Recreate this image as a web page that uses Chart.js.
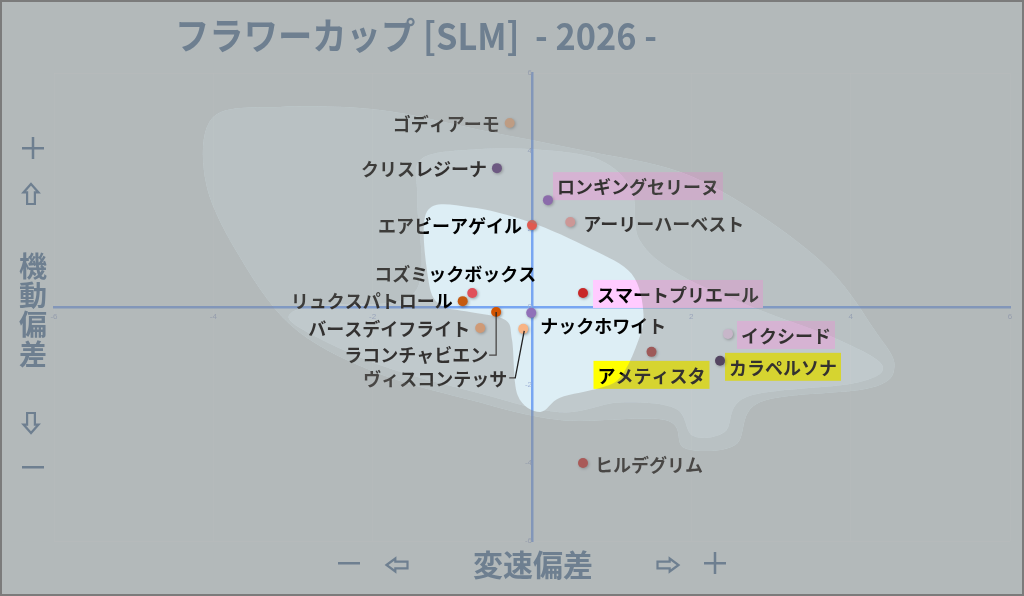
<!DOCTYPE html>
<html lang="ja">
<head>
<meta charset="utf-8">
<title>フラワーカップ [SLM] - 2026 -</title>
<script src="https://cdn.jsdelivr.net/npm/chart.js@4.4.1/dist/chart.umd.min.js"></script>
<style>
    html, body { margin: 0; padding: 0; background: #b3b8bb; }
    #wrap { width: 1024px; height: 596px; }
</style>
</head>
<body>
<div id="wrap"><canvas id="flowerChart" width="1024" height="596"></canvas></div>
<script>
// 馬名と偏差値 (x: 変速偏差, y: 機動偏差)
const horseNames = [
    'ゴディアーモ', 'クリスレジーナ', 'ロンギングセリーヌ', 'アーリーハーベスト',
    'エアビーアゲイル', 'コズミックボックス', 'リュクスパトロール', 'ラコンチャビエン',
    'ナックホワイト', 'バースデイフライト', 'ヴィスコンテッサ', 'スマートプリエール',
    'イクシード', 'アメティスタ', 'カラペルソナ', 'ヒルデグリム'
];
const speedDev = [-0.28, -0.44, 0.20, 0.48, 0.00, -0.75, -0.87, -0.45, -0.01, -0.65, -0.11, 0.64, 2.46, 1.50, 2.36, 0.64];
const mobilityDev = [4.72, 3.56, 2.74, 2.18, 2.10, 0.36, 0.15, -0.13, -0.15, -0.54, -0.56, 0.36, -0.69, -1.15, -1.38, -4.00];
const tickValues = [-6, -4, -2, 0, 2, 4, 6];

const pointColors = [
    '#f4b183', '#5b3f80', '#8a5cc0', '#f0a0a0', '#e05a50', '#e0505a', '#c55a11', '#d35400',
    '#9070b8', '#f4a46e', '#f8b485', '#c82828', '#e8d0f0', '#a84040', '#35204d', '#c82828'
];

// ラベルの置き方 (点からのずれ, px)
const PINK = '#ffcbff';
const YELLOW = '#ffff00';
const labelPlacement = [
    { dx: -10, dy: 0, align: 'right' },
    { dx: -10, dy: 0, align: 'right' },
    { dx: 9, dy: -14, align: 'left', box: PINK },
    { dx: 13, dy: 1, align: 'left' },
    { dx: -10, dy: 0, align: 'right' },
    { dx: -17, dy: -20, align: 'center' },
    { dx: -10, dy: -1, align: 'right' },
    { dx: -8, dy: 42, align: 'right', leader: [[0, 0], [0, 43], [-7, 43]] },
    { dx: 9, dy: 12, align: 'left' },
    { dx: -10, dy: 0, align: 'right' },
    { dx: -16, dy: 49, align: 'right', leader: [[1, 2], [-8, 49], [-14, 49]] },
    { dx: 14, dy: 1, align: 'left', box: PINK },
    { dx: 13, dy: 1, align: 'left', box: PINK },
    { dx: 0, dy: 23, align: 'center', box: YELLOW },
    { dx: 9, dy: 6, align: 'left', box: YELLOW },
    { dx: 12, dy: 1, align: 'left' }
];

// 背景のもや (データ座標)
const blobOuter = [
    [-4.00, 4.87], [-3.16, 5.13], [-1.91, 5.05], [-0.65, 4.54], [0.60, 4.03], [1.86, 3.46],
    [2.86, 2.36], [3.74, 0.95], [4.30, -0.59], [4.55, -1.51], [4.24, -2.08], [2.86, -2.44],
    [2.55, -3.54], [1.92, -3.62], [1.67, -2.90], [0.35, -2.90], [-0.78, -2.38], [-2.03, -1.62],
    [-3.03, -0.46], [-3.72, 1.46], [-4.10, 3.26]
];
const blobMiddle = [
    [-1.40, 3.77], [-0.78, 4.03], [0.10, 4.03], [0.85, 3.77], [1.25, 3.00], [1.35, 1.72],
    [1.86, 0.82], [2.86, -0.08], [3.86, -0.85], [4.40, -1.51], [4.05, -1.95], [2.70, -2.30],
    [2.42, -3.20], [2.02, -3.30], [1.80, -2.60], [1.10, -2.45], [0.35, -2.70], [-0.65, -2.22],
    [-1.91, -1.49], [-2.91, -0.54], [-3.01, -0.13], [-2.53, 0.05], [-1.47, 0.38], [-1.44, 2.74]
];
const blobInner = [
    [-1.32, 2.44], [-0.78, 2.56], [-0.03, 2.18], [0.73, 1.50], [1.25, 0.85], [1.40, -0.20],
    [1.30, -1.05], [1.10, -1.82], [0.85, -2.08], [0.35, -2.33], [0.10, -2.69], [-0.18, -2.26],
    [-0.25, -0.85], [-0.34, -0.33], [-0.78, -0.13], [-1.15, 0.05], [-1.30, 0.69]
];

const LABEL_FONT = 'bold 18px "Noto Sans CJK JP", sans-serif';
const SLATE = '#6e7f90';
const VEIL = '140, 137, 132';

function labelAnchor(ctx, pt, i) {
    const pl = labelPlacement[i];
    const w = ctx.measureText(horseNames[i]).width;
    const ax = pt.x + pl.dx;
    let left = ax;
    if (pl.align === 'right') left = ax - w;
    if (pl.align === 'center') left = ax - w / 2;
    return { left: left, y: pt.y + pl.dy, w: w };
}

function blobPath(ctx, chart, pts) {
    const xs = chart.scales.x, ys = chart.scales.y;
    const p = pts.map(([x, y]) => [xs.getPixelForValue(x), ys.getPixelForValue(y)]);
    const n = p.length;
    ctx.beginPath();
    ctx.moveTo(p[0][0], p[0][1]);
    for (let i = 0; i < n; i++) {
        const p0 = p[(i - 1 + n) % n], p1 = p[i], p2 = p[(i + 1) % n], p3 = p[(i + 2) % n];
        ctx.bezierCurveTo(
            p1[0] + (p2[0] - p0[0]) / 6, p1[1] + (p2[1] - p0[1]) / 6,
            p2[0] - (p3[0] - p1[0]) / 6, p2[1] - (p3[1] - p1[1]) / 6,
            p2[0], p2[1]);
    }
    ctx.closePath();
}

// 白抜きの矢印 (dir: up / down / left / right)
function outlineArrow(ctx, cx, cy, len, wid, dir) {
    const head = len * 0.42, half = wid / 2, shaft = wid * 0.26;
    const pts = [
        [0, -len / 2], [half, -len / 2 + head], [shaft, -len / 2 + head], [shaft, len / 2],
        [-shaft, len / 2], [-shaft, -len / 2 + head], [-half, -len / 2 + head]
    ];
    const rot = { up: 0, right: Math.PI / 2, down: Math.PI, left: -Math.PI / 2 }[dir];
    ctx.save();
    ctx.translate(cx, cy);
    ctx.rotate(rot);
    ctx.beginPath();
    pts.forEach(([x, y], k) => k ? ctx.lineTo(x, y) : ctx.moveTo(x, y));
    ctx.closePath();
    ctx.stroke();
    ctx.restore();
}

const backgroundPlugin = {
    id: 'baseBackground',
    beforeDraw(chart) {
        const ctx = chart.ctx;
        ctx.save();
        ctx.fillStyle = '#ddeef5';
        ctx.fillRect(0, 0, chart.width, chart.height);
        ctx.restore();
    }
};

const labelPlugin = {
    id: 'horseLabels',
    beforeDatasetsDraw(chart) {
        const ctx = chart.ctx;
        const meta = chart.getDatasetMeta(0);
        ctx.save();
        ctx.font = LABEL_FONT;
        meta.data.forEach((pt, i) => {
            const pl = labelPlacement[i];
            if (!pl.box) return;
            const a = labelAnchor(ctx, pt, i);
            ctx.fillStyle = pl.box;
            ctx.fillRect(a.left - 4, a.y - 14, a.w + 8, 28);
        });
        ctx.restore();
        // 点の影
        ctx.save();
        ctx.shadowColor = 'rgba(0, 0, 0, 0.35)';
        ctx.shadowBlur = 3;
        ctx.shadowOffsetX = 1;
        ctx.shadowOffsetY = 1;
    },
    afterDatasetsDraw(chart) {
        const ctx = chart.ctx;
        ctx.restore();
        const meta = chart.getDatasetMeta(0);
        ctx.save();
        ctx.font = LABEL_FONT;
        ctx.textBaseline = 'middle';
        ctx.textAlign = 'left';
        meta.data.forEach((pt, i) => {
            const pl = labelPlacement[i];
            const a = labelAnchor(ctx, pt, i);
            ctx.fillStyle = '#000000';
            ctx.fillText(horseNames[i], a.left, a.y + 1);
            if (pl.leader) {
                ctx.strokeStyle = '#222222';
                ctx.lineWidth = 1.3;
                ctx.beginPath();
                pl.leader.forEach(([lx, ly], k) => {
                    if (k === 0) ctx.moveTo(pt.x + lx, pt.y + ly);
                    else ctx.lineTo(pt.x + lx, pt.y + ly);
                });
                ctx.stroke();
            }
        });
        ctx.restore();
    }
};

const veilPlugin = {
    id: 'greyVeil',
    afterDraw(chart) {
        const ctx = chart.ctx;
        const cv = chart.canvas;
        const dpr = chart.currentDevicePixelRatio || 1;
        const veil = document.createElement('canvas');
        veil.width = cv.width;
        veil.height = cv.height;
        const vctx = veil.getContext('2d');
        vctx.scale(dpr, dpr);
        const layers = [
            { pts: null, a: 0.52 },
            { pts: blobOuter, a: 0.44 },
            { pts: blobMiddle, a: 0.36 },
            { pts: blobInner, a: 0.0 }
        ];
        layers.forEach(layer => {
            vctx.save();
            if (layer.pts) {
                blobPath(vctx, chart, layer.pts);
                vctx.clip();
            }
            vctx.clearRect(0, 0, chart.width, chart.height);
            vctx.fillStyle = `rgba(${VEIL}, ${layer.a})`;
            vctx.fillRect(0, 0, chart.width, chart.height);
            vctx.restore();
        });
        ctx.save();
        ctx.setTransform(1, 0, 0, 1, 0, 0);
        ctx.drawImage(veil, 0, 0);
        ctx.restore();

        // タイトルと軸の見出し
        ctx.save();
        ctx.fillStyle = SLATE;
        ctx.strokeStyle = SLATE;
        ctx.textBaseline = 'middle';
        ctx.textAlign = 'left';
        ctx.font = 'bold 37px "Noto Sans CJK JP", sans-serif';
        const title = 'フラワーカップ [SLM]  - 2026 -';
        const tw = ctx.measureText(title).width;
        ctx.save();
        ctx.translate(175, 36);
        ctx.scale(482 / tw, 1);
        ctx.fillText(title, 0, 0);
        ctx.restore();

        ctx.textAlign = 'center';
        ctx.font = 'bold 28px "Noto Sans CJK JP", sans-serif';
        ['機', '動', '偏', '差'].forEach((ch, k) => ctx.fillText(ch, 33, 266 + k * 29.3));
        ctx.font = 'bold 30px "Noto Sans CJK JP", sans-serif';
        ctx.fillText('変速偏差', 533, 565);

        // ＋ と －
        ctx.fillRect(22, 147, 22, 2.5);
        ctx.fillRect(31.75, 137, 2.5, 22);
        ctx.fillRect(704, 562, 22, 2.5);
        ctx.fillRect(713.75, 552, 2.5, 22);
        ctx.fillRect(22, 466, 22, 2.5);
        ctx.fillRect(338, 562, 22, 2.5);

        ctx.lineWidth = 2.2;
        ctx.lineJoin = 'miter';
        outlineArrow(ctx, 31, 194, 20, 15, 'up');
        outlineArrow(ctx, 31, 423, 20, 15, 'down');
        outlineArrow(ctx, 397, 565, 21, 13, 'left');
        outlineArrow(ctx, 668, 565, 21, 13, 'right');

        ctx.strokeStyle = '#7b7b7b';
        ctx.lineWidth = 2;
        ctx.strokeRect(1, 1, chart.width - 2, chart.height - 2);
        ctx.restore();
    }
};

const scatterData = speedDev.map((x, i) => ({ x: x, y: mobilityDev[i] }));

const frameGrid = (c) => (c.tick && Math.abs(c.tick.value) === 6) ? 'rgba(255, 255, 255, 0.18)' : 'rgba(0, 0, 0, 0)';

new Chart(document.getElementById('flowerChart').getContext('2d'), {
    type: 'scatter',
    data: {
        datasets: [{
            label: 'フラワーカップ',
            data: scatterData,
            pointBackgroundColor: pointColors,
            pointBorderWidth: 0,
            pointRadius: 5,
            pointHoverRadius: 5
        }]
    },
    options: {
        responsive: false,
        animation: false,
        events: [],
        layout: { padding: { left: 54, right: 14, top: 73, bottom: 55 } },
        plugins: {
            legend: { display: false },
            title: { display: false },
            tooltip: { enabled: false }
        },
        scales: {
            x: {
                type: 'linear',
                min: -6,
                max: 6,
                position: { y: 0 },
                afterBuildTicks: (axis) => { axis.ticks = tickValues.map(v => ({ value: v })); },
                ticks: { color: '#a0b4d8', font: { size: 8 }, padding: 5 },
                grid: { color: (c) => (c.tick && c.tick.value !== 0) ? 'rgba(255, 255, 255, 0.14)' : 'rgba(0, 0, 0, 0)', drawTicks: false },
                border: { color: '#78a6f2', width: 2.5 }
            },
            y: {
                type: 'linear',
                min: -6,
                max: 6,
                position: { x: 0 },
                afterBuildTicks: (axis) => { axis.ticks = tickValues.map(v => ({ value: v })); },
                ticks: { color: '#a0b4d8', font: { size: 8 }, padding: 5 },
                grid: { color: frameGrid, drawTicks: false },
                border: { color: '#78a6f2', width: 2.5 }
            }
        }
    },
    plugins: [backgroundPlugin, labelPlugin, veilPlugin]
});
</script>
</body>
</html>
